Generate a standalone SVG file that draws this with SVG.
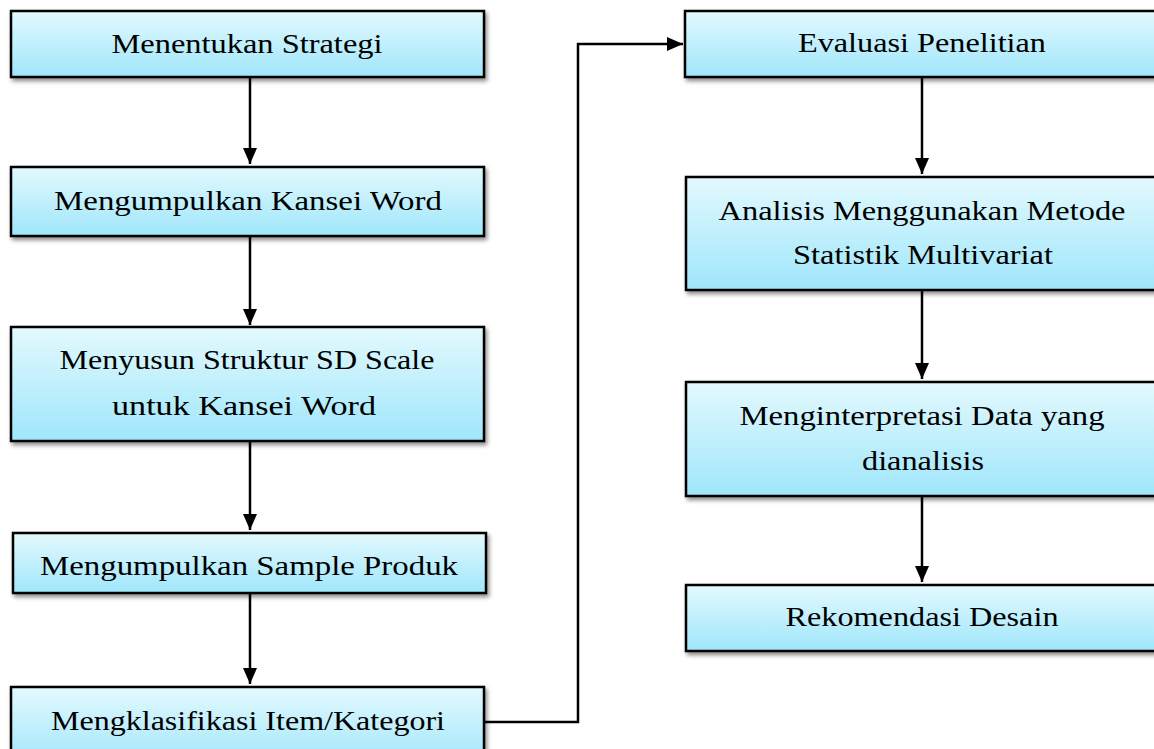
<svg xmlns="http://www.w3.org/2000/svg" width="1154" height="749" viewBox="0 0 1154 749">
<defs>
<linearGradient id="g" x1="0" y1="0" x2="0" y2="1">
<stop offset="0" stop-color="#e3f9fe"/>
<stop offset="1" stop-color="#9fe6fb"/>
</linearGradient>
<filter id="sh" x="-5%" y="-10%" width="112%" height="130%">
<feDropShadow dx="2" dy="3" stdDeviation="2" flood-color="#000" flood-opacity="0.45"/>
</filter>
<marker id="ah" markerUnits="userSpaceOnUse" markerWidth="17" markerHeight="15" refX="16" refY="7" orient="auto">
<path d="M0,0 L16,7 L0,14 z" fill="#000"/>
</marker>
</defs>
<style>
.box{fill:url(#g);stroke:#000;stroke-width:2.5;filter:url(#sh)}
.t{font-family:"Liberation Serif","Times New Roman",serif;font-size:27px;fill:#000;text-anchor:middle}
.c{fill:none;stroke:#000;stroke-width:2.5}
</style>
<g id="connectors">
<line class="c" x1="250" y1="77" x2="250" y2="164" marker-end="url(#ah)"/>
<line class="c" x1="250" y1="236" x2="250" y2="325" marker-end="url(#ah)"/>
<line class="c" x1="250" y1="441" x2="250" y2="530" marker-end="url(#ah)"/>
<line class="c" x1="250" y1="593" x2="250" y2="684" marker-end="url(#ah)"/>
<line class="c" x1="922" y1="77" x2="922" y2="174" marker-end="url(#ah)"/>
<line class="c" x1="922" y1="290" x2="922" y2="379" marker-end="url(#ah)"/>
<line class="c" x1="922" y1="496" x2="922" y2="582" marker-end="url(#ah)"/>
<polyline class="c" points="485,722 578,722 578,44 683,44" marker-end="url(#ah)"/>
</g>
<g id="n1"><rect class="box" x="11" y="11" width="473" height="66"/>
<text class="t" x="247" y="53" textLength="271" lengthAdjust="spacingAndGlyphs">Menentukan Strategi</text></g>
<g id="n2"><rect class="box" x="11" y="167" width="473" height="69"/>
<text class="t" x="248" y="210" textLength="388" lengthAdjust="spacingAndGlyphs">Mengumpulkan Kansei Word</text></g>
<g id="n3"><rect class="box" x="11" y="327" width="473" height="114"/>
<text class="t" x="247" y="369" textLength="375" lengthAdjust="spacingAndGlyphs">Menyusun Struktur SD Scale</text>
<text class="t" x="244" y="415" textLength="264" lengthAdjust="spacingAndGlyphs">untuk Kansei Word</text></g>
<g id="n4"><rect class="box" x="13" y="533" width="473" height="60"/>
<text class="t" x="249" y="575" textLength="418" lengthAdjust="spacingAndGlyphs">Mengumpulkan Sample Produk</text></g>
<g id="n5"><rect class="box" x="11" y="687" width="473" height="80"/>
<text class="t" x="248" y="730" textLength="394" lengthAdjust="spacingAndGlyphs">Mengklasifikasi Item/Kategori</text></g>
<g id="n6"><rect class="box" x="685" y="11" width="473" height="66"/>
<text class="t" x="922" y="52" textLength="248" lengthAdjust="spacingAndGlyphs">Evaluasi Penelitian</text></g>
<g id="n7"><rect class="box" x="686" y="177" width="473" height="113"/>
<text class="t" x="922" y="220" textLength="407" lengthAdjust="spacingAndGlyphs">Analisis Menggunakan Metode</text>
<text class="t" x="923" y="264" textLength="260" lengthAdjust="spacingAndGlyphs">Statistik Multivariat</text></g>
<g id="n8"><rect class="box" x="686" y="382" width="473" height="114"/>
<text class="t" x="922" y="425" textLength="365" lengthAdjust="spacingAndGlyphs">Menginterpretasi Data yang</text>
<text class="t" x="923" y="470" textLength="122" lengthAdjust="spacingAndGlyphs">dianalisis</text></g>
<g id="n9"><rect class="box" x="686" y="585" width="473" height="66"/>
<text class="t" x="922" y="626" textLength="273" lengthAdjust="spacingAndGlyphs">Rekomendasi Desain</text></g>
</svg>
